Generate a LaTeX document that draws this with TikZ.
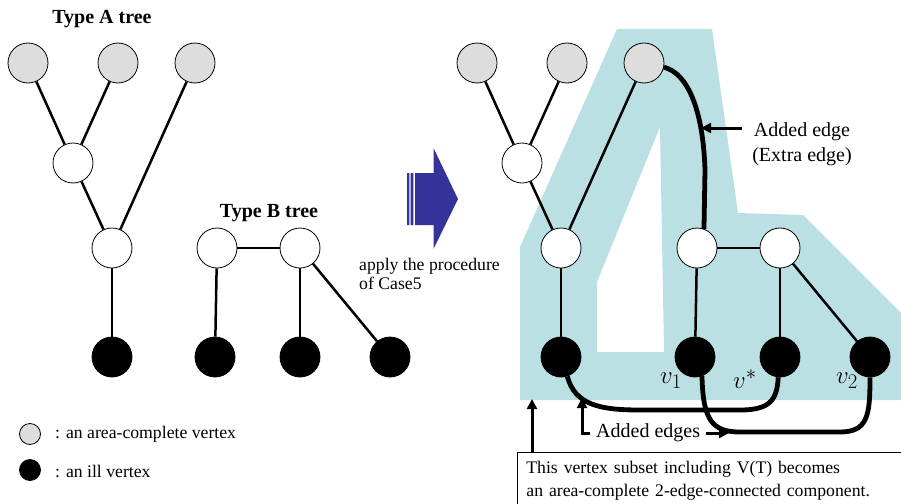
\documentclass[tikz,border=0pt]{standalone}
\usepackage{fontspec}
\setmainfont{Liberation Serif}
\usetikzlibrary{arrows.meta}
\definecolor{areateal}{RGB}{187,224,227}
\definecolor{caseblue}{RGB}{51,51,153}
\definecolor{vgray}{RGB}{221,221,221}
\newcommand\txt{\fontsize{17.7}{19.5}\selectfont}
\newcommand\bigtxt{\fontsize{20}{25}\selectfont}
\newcommand\treeA[2]{
    \node[G] (#2a) at (#1+28,63) {};
    \node[G] (#2b) at (#1+118,63) {};
    \node[G] (#2c) at (#1+195,63) {};
    \node[W] (#2m) at (#1+73,163) {};
    \node[W] (#2r) at (#1+112,248) {};
    \node[K] (#2k) at (#1+112,357) {};
    \draw[E] (#2a) -- (#2m);
    \draw[E] (#2b) -- (#2m);
    \draw[E] (#2m) -- (#2r);
    \draw[E] (#2c) -- (#2r);
    \draw[E] (#2r) -- (#2k);
}
\newcommand\treeB[2]{
    \node[W] (#2p) at (#1+217,248) {};
    \node[W] (#2q) at (#1+300,248) {};
    \node[K] (#2x) at (#1+215,357) {};
    \node[K] (#2y) at (#1+300,357) {};
    \node[K] (#2z) at (#1+390,357) {};
    \draw[E] (#2p) -- (#2q);
    \draw[E] (#2p) -- (#2x);
    \draw[E] (#2q) -- (#2y);
    \draw[E] (#2q) -- (#2z);
}

\begin{document}
\begin{tikzpicture}[x=1pt, y=-1pt,
        V/.style={circle, draw=black, line width=0.8pt, minimum size=40pt, inner sep=0pt},
        G/.style={V, fill=vgray},
        W/.style={V, fill=white},
        K/.style={V, fill=black},
        E/.style={line width=2.5pt},
        X/.style={line width=4.8pt},
        P/.style={line width=3pt, -{Triangle[length=10pt, width=10pt]}},
        T/.style={inner sep=0pt, font=\txt}
    ]
    \useasboundingbox (0,0) rectangle (901,503);
    \clip (0,0) rectangle (901,503);
    % vertex subset of the new component
    \fill[areateal, even odd rule] (520,400) -- (520,247) -- (617,29) -- (712,29) -- (738,213)
        -- (803,215) -- (910,322) -- (910,400) -- cycle
        (660,127) -- (597,282) -- (597,352) -- (664,352) -- cycle;

    \node[font=\bfseries\bigtxt] (titleA) at (102,19) {Type A tree};
    \node[font=\bfseries\bigtxt] (titleB) at (269,213) {Type B tree};
    \treeA{0}{L}
    \treeB{0}{L}
    \treeA{449}{R}
    \treeB{480}{R}

    % procedure arrow
    \fill[caseblue] (407,173) rectangle (409.3,225) (410.7,173) rectangle (413.3,225)
        (415,173) -- (433.5,173) -- (433.5,148) -- (458,199) -- (433.5,249) -- (433.5,225) -- (415,225) -- cycle;
    \node[T, align=left, anchor=north west] (apply) at (359,258) {apply the procedure\\of Case5};

    % added edges
    \draw[X] (Rc.-12) .. controls (687,73) and (703,108) .. (705,170) -- (Rp.70);
    \draw[X] (Rk.-72) .. controls (575,405) and (600,410) .. (640,410) -- (740,410)
        .. controls (770,410) and (777,400) .. (Ry.-95);
    \draw[X] (Rx.-70) .. controls (703,420) and (712,432) .. (740,432) -- (840,432)
        .. controls (868,432) and (870,415) .. (Rz.-90);

    \node[font=\fontsize{28}{32}\selectfont, inner sep=0pt] (v1) at (671,381) {$v_1$};
    \node[font=\fontsize{28}{32}\selectfont, inner sep=0pt] (vs) at (745,379) {$v^*$};
    \node[font=\fontsize{28}{32}\selectfont, inner sep=0pt] (v2) at (847,381) {$v_2$};

    \node[font=\bigtxt, inner sep=0pt, align=center, anchor=north] (extra) at (802,122) {Added edge\\(Extra edge)};
    \coordinate (xtip) at (701,128);
    \draw[P] ([xshift=-10pt]extra.west |- xtip) -- (xtip);

    \node[font=\bigtxt, inner sep=0pt, anchor=west] (added) at (596,433) {Added edges};
    \coordinate (aeL) at (582,398);
    \coordinate (aeR) at (729,433);
    \draw[P] ([xshift=-6pt]added.west) -| (aeL);
    \draw[P] ([xshift=6pt]added.east) -- (aeR);

    \node[draw, line width=0.8pt, anchor=north west, inner xsep=9pt, inner ysep=9pt, text width=380pt,
        align=left, font=\fontsize{17.7}{23}\selectfont, text depth=35pt] (note) at (517,452)
        {This vertex subset including V(T) becomes\\an area-complete 2-edge-connected component.};
    \coordinate (subset) at (532,399);
    \draw[P] (note.north west -| subset) -- (subset);

    % legend
    \node[G, minimum size=21pt] (legG) at (30,434) {};
    \node[T, anchor=west] (legGt) at (55,434) {: an area-complete vertex};
    \node[K, minimum size=21pt] (legK) at (30,470) {};
    \node[T, anchor=west] (legKt) at (55,471) {: an ill vertex};
\end{tikzpicture}
\end{document}
